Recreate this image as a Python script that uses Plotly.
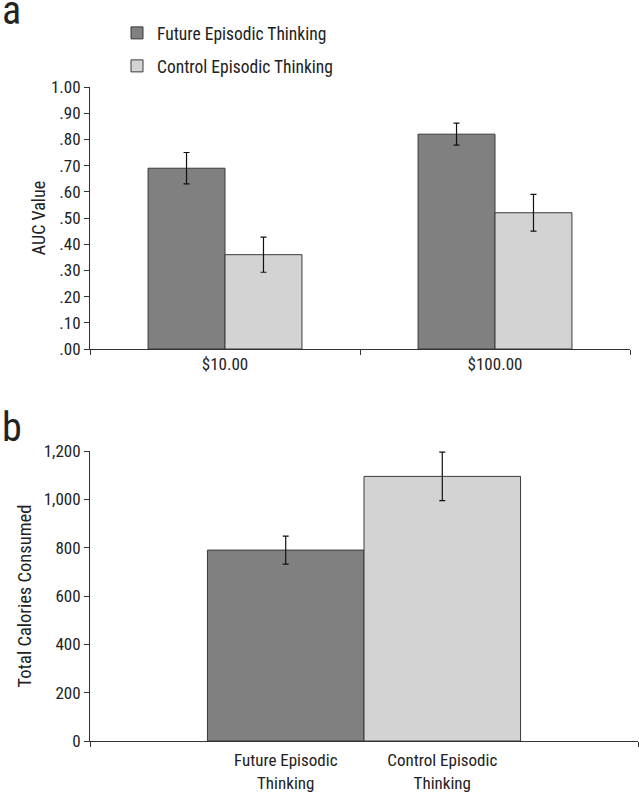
import plotly.graph_objects as go

# ---- Data ----
a_categories = ["$10.00", "$100.00"]
a_future = [0.69, 0.82]
a_future_err = [0.06, 0.042]
a_control = [0.36, 0.52]
a_control_err = [0.067, 0.07]
a_yticks = [0, 0.1, 0.2, 0.3, 0.4, 0.5, 0.6, 0.7, 0.8, 0.9, 1.0]
a_yticklabels = [".00", ".10", ".20", ".30", ".40", ".50", ".60", ".70", ".80", ".90", "1.00"]

b_labels = ["Future Episodic<br>Thinking", "Control Episodic<br>Thinking"]
b_values = [790, 1095]
b_err = [58, 100]
b_yticks = [0, 200, 400, 600, 800, 1000, 1200]
b_yticklabels = ["0", "200", "400", "600", "800", "1,000", "1,200"]

series_names = ["Future Episodic Thinking", "Control Episodic Thinking"]
DARK = "#808080"
LIGHT = "#d3d3d3"
EDGE = "#3a3a3a"
FONT = "Liberation Sans Narrow, Roboto Condensed, Arial Narrow, sans-serif"
TXT = "#222"

W, H = 639, 795
def px(x):
    return x / W
def py(y):
    return 1 - y / H

fig = go.Figure()

fig.add_trace(go.Bar(
    x=a_categories, y=a_future, name=series_names[0],
    marker=dict(color=DARK, line=dict(color=EDGE, width=1)),
    error_y=dict(type="data", array=a_future_err, color="#111", thickness=1.2, width=3),
    xaxis="x", yaxis="y", legend="legend",
))
fig.add_trace(go.Bar(
    x=a_categories, y=a_control, name=series_names[1],
    marker=dict(color=LIGHT, line=dict(color=EDGE, width=1)),
    error_y=dict(type="data", array=a_control_err, color="#111", thickness=1.2, width=3),
    xaxis="x", yaxis="y", legend="legend2",
))

fig.add_trace(go.Bar(
    x=[0, 1], y=b_values, width=[1, 1], showlegend=False,
    marker=dict(color=[DARK, LIGHT], line=dict(color=EDGE, width=1)),
    error_y=dict(type="data", array=b_err, color="#111", thickness=1.2, width=3),
    xaxis="x2", yaxis="y2",
))

axis_common = dict(showline=True, linecolor="#333", linewidth=1, showgrid=False,
                   zeroline=False, tickcolor="#333", ticklen=5, automargin=False,
                   tickfont=dict(family=FONT, size=17, color=TXT))

fig.update_layout(
    width=W, height=H,
    margin=dict(l=0, r=0, t=0, b=0),
    paper_bgcolor="white", plot_bgcolor="white",
    font=dict(family=FONT, color=TXT),
    barmode="group", bargap=0.43, bargroupgap=0,
    xaxis=dict(domain=[px(90), px(630)], anchor="y", type="category",
               range=[-0.5, 1.5], ticks="outside", tickson="boundaries",
               **axis_common),
    yaxis=dict(domain=[py(349), py(87)], anchor="x", range=[0, 1.0],
               tickvals=a_yticks, ticktext=a_yticklabels, ticks="outside",
               title=dict(text="AUC Value", font=dict(family=FONT, size=18, color=TXT), standoff=0),
               **axis_common),
    xaxis2=dict(domain=[px(90), px(638)], anchor="y2", range=[-1.25, 2.25],
                tickvals=[0, 1], ticktext=b_labels, ticks="", ticklabelstandoff=4,
                minor=dict(tick0=-1.25, dtick=3.5, ticks="outside", ticklen=5, tickcolor="#333"),
                **axis_common),
    yaxis2=dict(domain=[py(741), py(451)], anchor="x2", range=[0, 1200],
                tickvals=b_yticks, ticktext=b_yticklabels, ticks="outside",
                title=dict(text="Total Calories Consumed", font=dict(family=FONT, size=18.5, color=TXT), standoff=7),
                **axis_common),
    legend=dict(x=px(117), y=py(15), xanchor="left", yanchor="top",
                font=dict(family=FONT, size=17.5, color=TXT), bgcolor="rgba(0,0,0,0)"),
    legend2=dict(x=px(117), y=py(48), xanchor="left", yanchor="top",
                 font=dict(family=FONT, size=17.5, color=TXT), bgcolor="rgba(0,0,0,0)"),
    annotations=[
        dict(text="a", x=0, y=py(-15), xref="paper", yref="paper", xanchor="left", yanchor="top",
             showarrow=False, font=dict(family=FONT, size=40, color=TXT)),
        dict(text="b", x=0, y=py(402), xref="paper", yref="paper", xanchor="left", yanchor="top",
             showarrow=False, font=dict(family=FONT, size=40, color=TXT)),
    ],
)

fig.write_html("out.html", config={"displayModeBar": False},
               post_script="document.body.style.margin='0';")
